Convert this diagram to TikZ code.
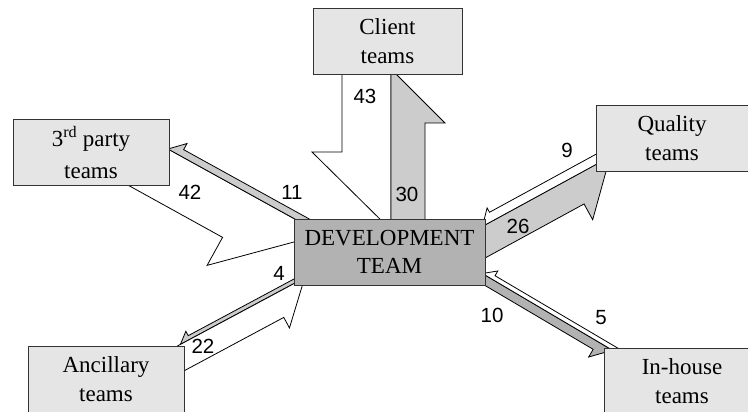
\documentclass[tikz,border=0pt]{standalone}
\usepackage{fontspec}
\setmainfont{Liberation Serif}
\setsansfont{Liberation Sans}
\usepackage{tikz}
\usetikzlibrary{calc}

% mezza freccia a blocco: stile, partenza, punta, spessore, ala, lunghezza punta
\newcommand{\mezzafreccia}[6][]{%
  \coordinate (mf-b) at ($(#3)!#6!(#2)$);
  \draw[#1] (#2) -- ($(#2)!#4!-90:(#3)$) -- ($(mf-b)!#4!-90:(#3)$)
    -- ($(mf-b)!#5!-90:(#3)$) -- (#3) -- cycle;
}

\begin{document}
\begin{tikzpicture}[x=1pt,y=-1pt,
    box/.style={rectangle,draw=black!80,line width=0.9pt,fill=black!10,minimum width=156pt,minimum height=66pt,inner sep=0pt,align=center,font=\fontsize{23}{28.5}\selectfont},
    num/.style={inner sep=0pt,font=\sffamily\fontsize{20.5}{24}\selectfont},
    pieno/.style={draw=black,line width=0.8pt,fill=black!20},
    vuoto/.style={draw=black,line width=0.8pt,fill=white}]
    \useasboundingbox (0,0) rectangle (748,412);
    \clip (0,0) rectangle (748,412);

    % Estremi delle frecce
    \coordinate (c43a) at (391,70);      \coordinate (c43b) at (391,230);
    \coordinate (c30a) at (391,225);     \coordinate (c30b) at (391,69);
    \coordinate (c11a) at (312.4,228.7); \coordinate (c11b) at (168,149);
    \coordinate (c42a) at (150.5,139.3); \coordinate (c42b) at (322.5,234.3);
    \coordinate (c26a) at (463,237);     \coordinate (c26b) at (610.1,156.7);
    \coordinate (c9a) at (616.7,153.2);  \coordinate (c9b) at (482.4,226.4);
    \coordinate (c10a) at (472.1,267.4); \coordinate (c10b) at (612.4,350.2);
    \coordinate (c5a) at (622.8,356.3);  \coordinate (c5b) at (482.4,273.5);
    \coordinate (c4a) at (301.9,279.3);  \coordinate (c4b) at (180.4,344.4);
    \coordinate (c22a) at (169.8,350.1); \coordinate (c22b) at (304.6,277.9);

    % Frecce
    \mezzafreccia[vuoto]{c43a}{c43b}{49pt}{79pt}{78pt}
    \mezzafreccia[pieno]{c30a}{c30b}{34pt}{54pt}{54pt}
    \mezzafreccia[vuoto]{c42a}{c42b}{51pt}{83pt}{86pt}
    \mezzafreccia[pieno]{c11a}{c11b}{7pt}{14pt}{14pt}
    \mezzafreccia[pieno]{c26a}{c26b}{29pt}{47pt}{45.5pt}
    \mezzafreccia[vuoto]{c9a}{c9b}{9pt}{14pt}{13pt}
    \mezzafreccia[pieno,fill=black!30]{c10a}{c10b}{9pt}{18pt}{17pt}
    \mezzafreccia[vuoto]{c5a}{c5b}{4.5pt}{10pt}{12pt}
    \mezzafreccia[pieno]{c4a}{c4b}{4pt}{9pt}{11pt}
    \mezzafreccia[vuoto]{c22a}{c22b}{25pt}{37pt}{37pt}

    % Riquadri
    \node[box,minimum width=149pt] (client) at (387.5,41) {Client\\teams};
    \node[box] (terzi) at (91,152.5) {3\textsuperscript{rd} party\\[3pt]teams};
    \node[box,minimum width=152pt] (quality) at (672,138) {Quality\\teams};
    \node[box] (ancillary) at (106,379) {Ancillary\\teams};
    \node[box] (inhouse) at (682,381) {In-house\\teams};
    \node[box,fill=black!30,minimum width=191pt] (dev) at (389.5,252) {DEVELOPMENT\\TEAM};

    % Etichette
    \node[num] (n43) at (365,96) {43};
    \node[num] (n30) at (407,194) {30};
    \node[num] (n42) at (190,192) {42};
    \node[num] (n11) at (292,192) {11};
    \node[num] (n4) at (279,273) {4};
    \node[num] (n22) at (203,346) {22};
    \node[num] (n9) at (567,150) {9};
    \node[num] (n26) at (518,226) {26};
    \node[num] (n10) at (492,315) {10};
    \node[num] (n5) at (601,318) {5};
\end{tikzpicture}
\end{document}
